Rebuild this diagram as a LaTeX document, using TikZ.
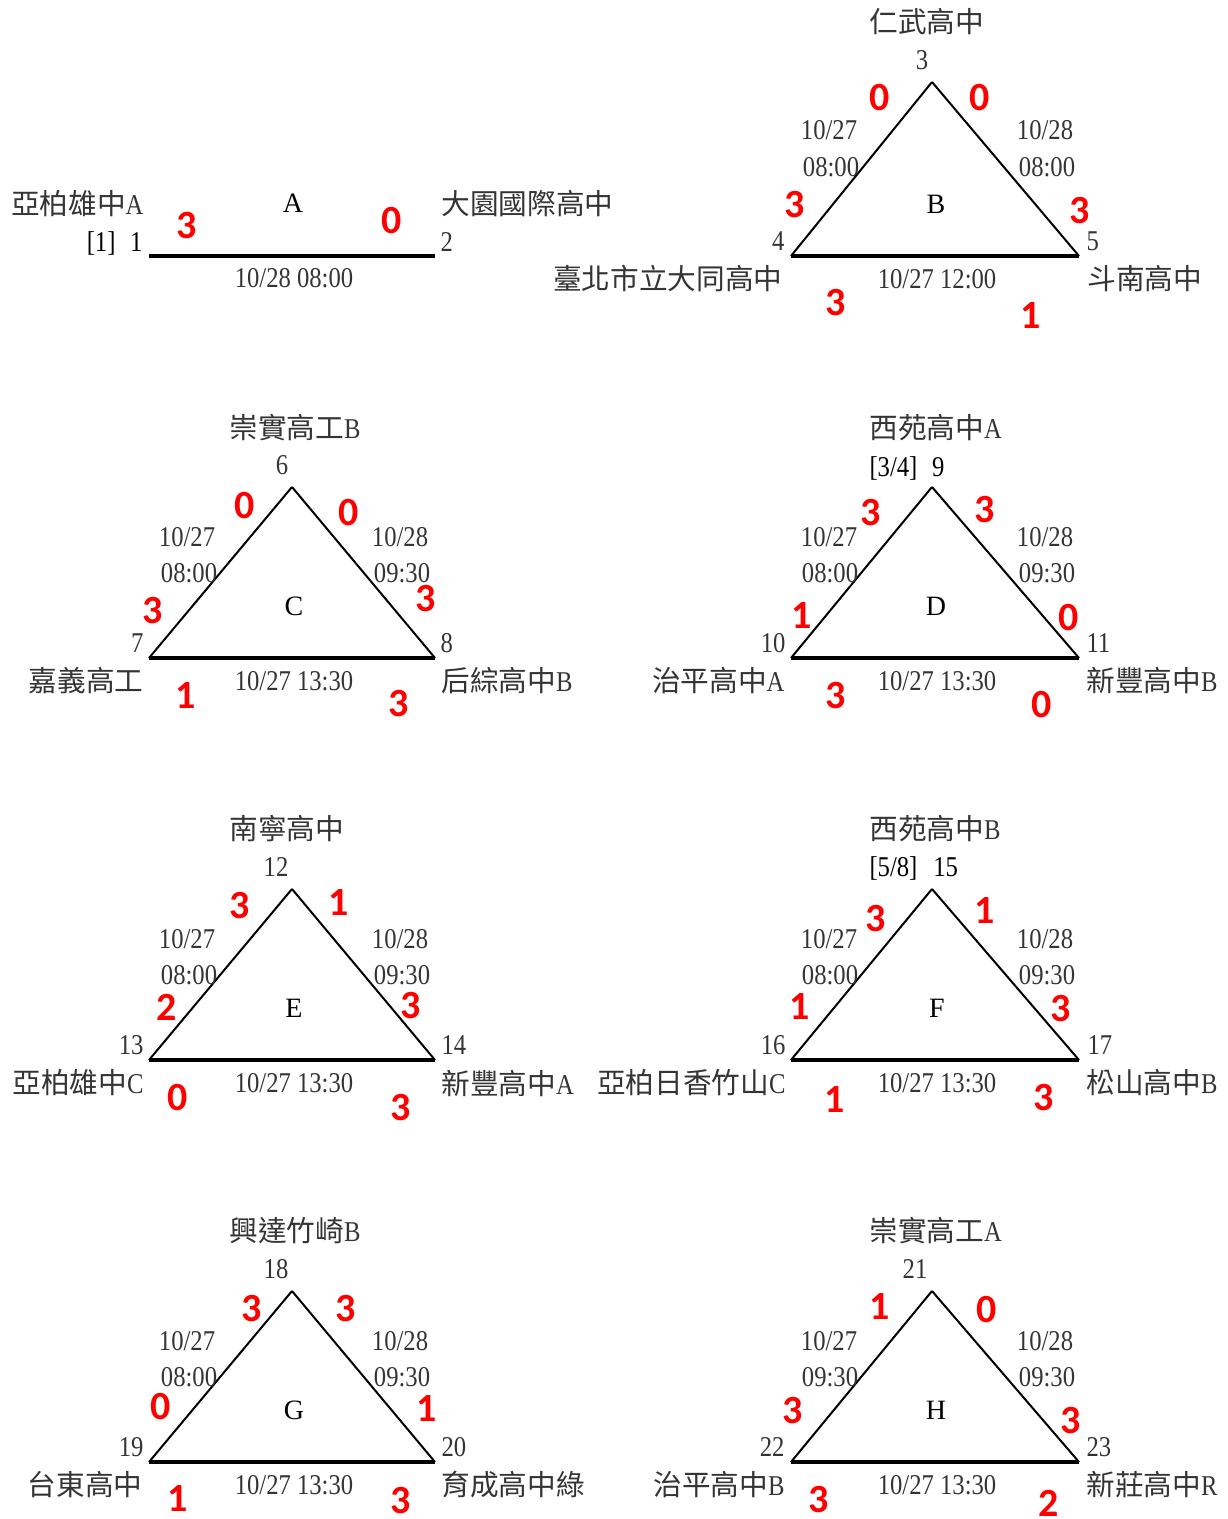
\documentclass[tikz,border=0pt]{standalone}
\usepackage{fontspec}
\usepackage{xcolor}
\setmainfont{Liberation Serif}[FakeStretch=0.86]
\newfontfamily\cjk{Noto Sans CJK TC}
\newfontfamily\letterfont{Liberation Serif}
\newfontfamily\scorefont{Carlito}
\definecolor{inkgray}{RGB}{52,52,52}
\definecolor{scorered}{RGB}{255,0,0}
\newcommand{\zh}[1]{{\cjk #1}}
\tikzset{every picture/.style={line width=0.75pt}}
\tikzset{
  school/.style={inner sep=0pt, text=inkgray, font=\fontsize{21.5}{24}\selectfont},
  seat/.style={inner sep=0pt, text=inkgray, text depth=0pt, font=\fontsize{21.5}{24}\selectfont},
  when/.style={seat},
  score/.style={inner sep=0pt, text=scorered, text depth=0pt, font=\scorefont\bfseries\fontsize{30}{32}\selectfont},
  pool/.style={inner sep=0pt, text=black, text depth=0pt, font=\letterfont\fontsize{21}{24}\selectfont},
  sideline/.style={draw=black, line width=1.5pt},
  floorline/.style={draw=black, line width=2.5pt},
}

\begin{document}
\begin{tikzpicture}[x=0.75pt,y=0.75pt,yscale=-1,xscale=1]
\useasboundingbox (0,0) rectangle (1227,1519);

% Vertices
\coordinate (v1) at (149,256);  \coordinate (v2) at (435,256);
\coordinate (v3) at (932,82);   \coordinate (v4) at (791,256);  \coordinate (v5) at (1079,256);
\coordinate (v6) at (292,487);  \coordinate (v7) at (149,658);  \coordinate (v8) at (435,658);
\coordinate (v9) at (932,487);  \coordinate (v10) at (791,658); \coordinate (v11) at (1079,658);
\coordinate (v12) at (292,889); \coordinate (v13) at (149,1060); \coordinate (v14) at (435,1060);
\coordinate (v15) at (932,889); \coordinate (v16) at (791,1060); \coordinate (v17) at (1079,1060);
\coordinate (v18) at (292,1291); \coordinate (v19) at (149,1462); \coordinate (v20) at (435,1462);
\coordinate (v21) at (932,1291); \coordinate (v22) at (791,1462); \coordinate (v23) at (1079,1462);

%Straight Lines
\draw [floorline] (v1) -- (v2);
\draw [sideline] (v3) -- (v4);   \draw [sideline] (v3) -- (v5);   \draw [floorline] (v4) -- (v5);
\draw [sideline] (v6) -- (v7);   \draw [sideline] (v6) -- (v8);   \draw [floorline] (v7) -- (v8);
\draw [sideline] (v9) -- (v10);  \draw [sideline] (v9) -- (v11);  \draw [floorline] (v10) -- (v11);
\draw [sideline] (v12) -- (v13); \draw [sideline] (v12) -- (v14); \draw [floorline] (v13) -- (v14);
\draw [sideline] (v15) -- (v16); \draw [sideline] (v15) -- (v17); \draw [floorline] (v16) -- (v17);
\draw [sideline] (v18) -- (v19); \draw [sideline] (v18) -- (v20); \draw [floorline] (v19) -- (v20);
\draw [sideline] (v21) -- (v22); \draw [sideline] (v21) -- (v23); \draw [floorline] (v22) -- (v23);

% Group A
\draw (144,204) node [school, anchor=east] (name1) {\zh{亞柏雄中}A};
\draw (143,242) node [seat, text=black, anchor=east] (seat1) {[1]\hspace{11pt}1};
\draw (441,204) node [school, anchor=west] (name2) {\zh{大園國際高中}};
\draw (440,242) node [seat, anchor=west] (seat2) {2};
\draw (293,203) node [pool] (poolA) {A};
\draw (294,278) node [when] (dA1) {10/28 08:00};
\draw (187,225) node [score] (sA1) {3};
\draw (392,220) node [score] (sA2) {0};

% Group B
\draw (869,22) node [school, anchor=west] (name3) {\zh{仁武高中}};
\draw (922,60) node [seat] (seat3) {3};
\draw (785,241) node [seat, anchor=east] (seat4) {4};
\draw (1086,241) node [seat, anchor=west] (seat5) {5};
\draw (783,279) node [school, anchor=east] (name4) {\zh{臺北市立大同高中}};
\draw (1087,279) node [school, anchor=west] (name5) {\zh{斗南高中}};
\draw (936,204) node [pool] (poolB) {B};
\draw (829,130) node [when] (dB1) {10/27};
\draw (831,167) node [when] (dB2) {08:00};
\draw (1045,130) node [when] (dB3) {10/28};
\draw (1047,167) node [when] (dB4) {08:00};
\draw (937,279) node [when] (dB5) {10/27 12:00};
\draw (880,97) node [score] (sB1) {0};
\draw (980,97) node [score] (sB2) {0};
\draw (795,204) node [score] (sB3) {3};
\draw (1080,210) node [score] (sB4) {3};
\draw (836,302) node [score] (sB5) {3};
\draw (1031,316) node [score] (sB6) {1};

% Group C
\draw (229,428) node [school, anchor=west] (name6) {\zh{崇實高工}B};
\draw (282,465) node [seat] (seat6) {6};
\draw (144,643) node [seat, anchor=east] (seat7) {7};
\draw (440,643) node [seat, anchor=west] (seat8) {8};
\draw (144,681) node [school, anchor=east] (name7) {\zh{嘉義高工}};
\draw (441,681) node [school, anchor=west] (name8) {\zh{后綜高中}B};
\draw (294,606) node [pool] (poolC) {C};
\draw (187,537) node [when] (dC1) {10/27};
\draw (189,573) node [when] (dC2) {08:00};
\draw (400,537) node [when] (dC3) {10/28};
\draw (402,573) node [when] (dC4) {09:30};
\draw (294,681) node [when] (dC5) {10/27 13:30};
\draw (245,505) node [score] (sC1) {0};
\draw (349,512) node [score] (sC2) {0};
\draw (153,610) node [score] (sC3) {3};
\draw (426,598) node [score] (sC4) {3};
\draw (186,696) node [score] (sC5) {1};
\draw (399,703) node [score] (sC6) {3};

% Group D
\draw (869,428) node [school, anchor=west] (name9) {\zh{西苑高中}A};
\draw (869,467) node [seat, text=black, anchor=west] (seat9) {[3/4]\hspace{11pt}9};
\draw (786,643) node [seat, anchor=east] (seat10) {10};
\draw (1086,643) node [seat, anchor=west] (seat11) {11};
\draw (785,681) node [school, anchor=east] (name10) {\zh{治平高中}A};
\draw (1086,681) node [school, anchor=west] (name11) {\zh{新豐高中}B};
\draw (936,606) node [pool] (poolD) {D};
\draw (829,537) node [when] (dD1) {10/27};
\draw (830,573) node [when] (dD2) {08:00};
\draw (1045,537) node [when] (dD3) {10/28};
\draw (1047,573) node [when] (dD4) {09:30};
\draw (937,681) node [when] (dD5) {10/27 13:30};
\draw (871,512) node [score] (sD1) {3};
\draw (985,509) node [score] (sD2) {3};
\draw (802,616) node [score] (sD3) {1};
\draw (1069,617) node [score] (sD4) {0};
\draw (836,695) node [score] (sD5) {3};
\draw (1042,704) node [score] (sD6) {0};

% Group E
\draw (229,829) node [school, anchor=west] (name12) {\zh{南寧高中}};
\draw (276,867) node [seat] (seat12) {12};
\draw (144,1045) node [seat, anchor=east] (seat13) {13};
\draw (441,1045) node [seat, anchor=west] (seat14) {14};
\draw (144,1083) node [school, anchor=east] (name13) {\zh{亞柏雄中}C};
\draw (441,1083) node [school, anchor=west] (name14) {\zh{新豐高中}A};
\draw (294,1008) node [pool] (poolE) {E};
\draw (187,939) node [when] (dE1) {10/27};
\draw (189,975) node [when] (dE2) {08:00};
\draw (400,939) node [when] (dE3) {10/28};
\draw (402,975) node [when] (dE4) {09:30};
\draw (294,1083) node [when] (dE5) {10/27 13:30};
\draw (240,905) node [score] (sE1) {3};
\draw (339,903) node [score] (sE2) {1};
\draw (167,1007) node [score] (sE3) {2};
\draw (411,1005) node [score] (sE4) {3};
\draw (178,1097) node [score] (sE5) {0};
\draw (401,1107) node [score] (sE6) {3};

% Group F
\draw (869,829) node [school, anchor=west] (name15) {\zh{西苑高中}B};
\draw (869,867) node [seat, text=black, anchor=west] (seat15) {[5/8]\hspace{12pt}15};
\draw (786,1045) node [seat, anchor=east] (seat16) {16};
\draw (1087,1045) node [seat, anchor=west] (seat17) {17};
\draw (786,1083) node [school, anchor=east] (name16) {\zh{亞柏日香竹山}C};
\draw (1086,1083) node [school, anchor=west] (name17) {\zh{松山高中}B};
\draw (937,1008) node [pool] (poolF) {F};
\draw (829,939) node [when] (dF1) {10/27};
\draw (830,975) node [when] (dF2) {08:00};
\draw (1045,939) node [when] (dF3) {10/28};
\draw (1047,975) node [when] (dF4) {09:30};
\draw (937,1083) node [when] (dF5) {10/27 13:30};
\draw (876,918) node [score] (sF1) {3};
\draw (985,911) node [score] (sF2) {1};
\draw (800,1007) node [score] (sF3) {1};
\draw (1061,1008) node [score] (sF4) {3};
\draw (835,1099) node [score] (sF5) {1};
\draw (1044,1097) node [score] (sF6) {3};

% Group G
\draw (229,1231) node [school, anchor=west] (name18) {\zh{興達竹崎}B};
\draw (276,1269) node [seat] (seat18) {18};
\draw (144,1447) node [seat, anchor=east] (seat19) {19};
\draw (441,1447) node [seat, anchor=west] (seat20) {20};
\draw (143,1485) node [school, anchor=east] (name19) {\zh{台東高中}};
\draw (441,1485) node [school, anchor=west] (name20) {\zh{育成高中綠}};
\draw (294,1410) node [pool] (poolG) {G};
\draw (187,1341) node [when] (dG1) {10/27};
\draw (189,1377) node [when] (dG2) {08:00};
\draw (400,1341) node [when] (dG3) {10/28};
\draw (402,1377) node [when] (dG4) {09:30};
\draw (294,1485) node [when] (dG5) {10/27 13:30};
\draw (252,1308) node [score] (sG1) {3};
\draw (346,1308) node [score] (sG2) {3};
\draw (161,1406) node [score] (sG3) {0};
\draw (427,1408) node [score] (sG4) {1};
\draw (178,1498) node [score] (sG5) {1};
\draw (401,1500) node [score] (sG6) {3};

% Group H
\draw (869,1231) node [school, anchor=west] (name21) {\zh{崇實高工}A};
\draw (915,1269) node [seat] (seat21) {21};
\draw (785,1447) node [seat, anchor=east] (seat22) {22};
\draw (1086,1447) node [seat, anchor=west] (seat23) {23};
\draw (785,1485) node [school, anchor=east] (name22) {\zh{治平高中}B};
\draw (1086,1485) node [school, anchor=west] (name23) {\zh{新莊高中}R};
\draw (936,1410) node [pool] (poolH) {H};
\draw (829,1341) node [when] (dH1) {10/27};
\draw (830,1377) node [when] (dH2) {09:30};
\draw (1045,1341) node [when] (dH3) {10/28};
\draw (1047,1377) node [when] (dH4) {09:30};
\draw (937,1485) node [when] (dH5) {10/27 13:30};
\draw (880,1306) node [score] (sH1) {1};
\draw (987,1309) node [score] (sH2) {0};
\draw (793,1410) node [score] (sH3) {3};
\draw (1071,1420) node [score] (sH4) {3};
\draw (819,1499) node [score] (sH5) {3};
\draw (1049,1503) node [score] (sH6) {2};

\end{tikzpicture}
\end{document}
